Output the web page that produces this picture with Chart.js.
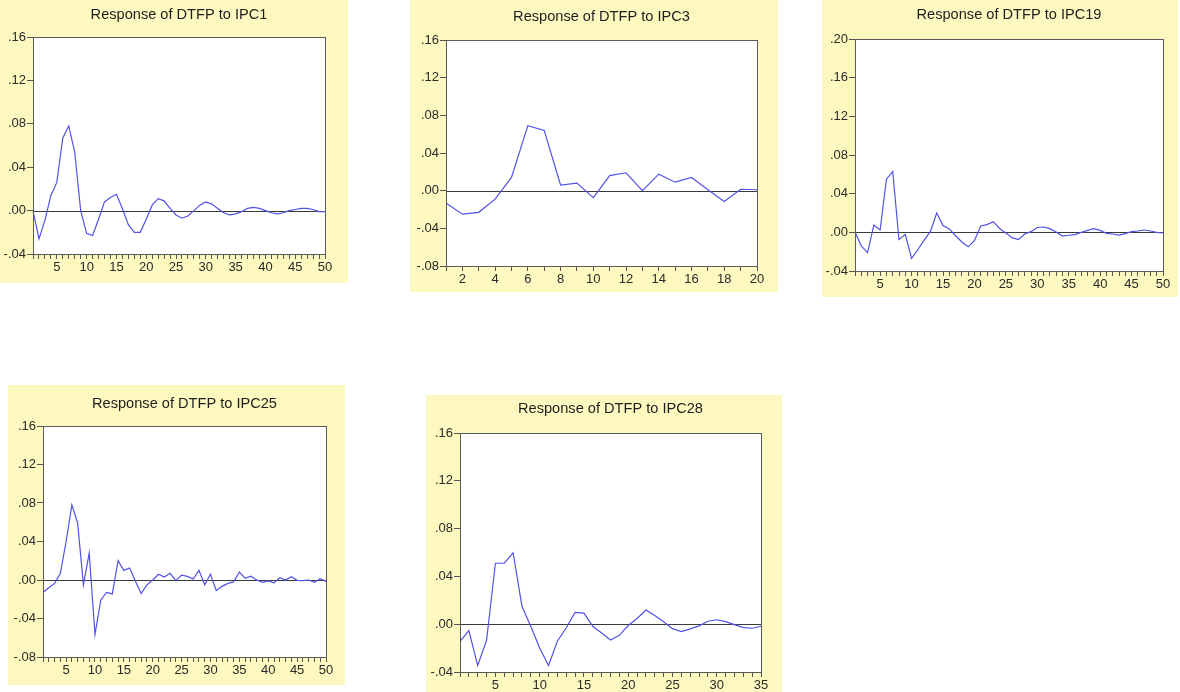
<!DOCTYPE html>
<html>
<head>
<meta charset="utf-8">
<script src="https://cdn.jsdelivr.net/npm/chart.js@4.4.1/dist/chart.umd.min.js"></script>
<style>
  html, body { margin: 0; padding: 0; background: #ffffff; }
  #wrap { position: relative; width: 1180px; height: 692px; overflow: hidden; }
  canvas { position: absolute; background: #fdf8bf; }
</style>
</head>
<body>
<div id="wrap">
  <canvas id="c1"></canvas>
  <canvas id="c2"></canvas>
  <canvas id="c3"></canvas>
  <canvas id="c4"></canvas>
  <canvas id="c5"></canvas>
</div>
<script>
// ---------- categories (periods) ----------
const periods50 = [1,2,3,4,5,6,7,8,9,10,11,12,13,14,15,16,17,18,19,20,21,22,23,24,25,26,27,28,29,30,31,32,33,34,35,36,37,38,39,40,41,42,43,44,45,46,47,48,49,50];
const periods20 = [1,2,3,4,5,6,7,8,9,10,11,12,13,14,15,16,17,18,19,20];
const periods35 = [1,2,3,4,5,6,7,8,9,10,11,12,13,14,15,16,17,18,19,20,21,22,23,24,25,26,27,28,29,30,31,32,33,34,35];

// ---------- series values ----------
const respIPC1 = [0.000,-0.026,-0.009,0.014,0.026,0.067,0.078,0.054,0.000,-0.021,
                  -0.023,-0.008,0.008,0.012,0.015,0.002,-0.013,-0.020,-0.020,-0.008,
                  0.005,0.011,0.009,0.002,-0.004,-0.007,-0.005,0.000,0.005,0.008,
                  0.006,0.002,-0.002,-0.004,-0.003,-0.001,0.002,0.003,0.002,0.000,
                  -0.002,-0.003,-0.002,0.000,0.001,0.002,0.002,0.001,-0.001,-0.001];
const respIPC3 = [-0.013,-0.025,-0.023,-0.009,0.014,0.069,0.064,0.006,0.008,-0.0075,
                  0.016,0.019,0.000,0.0175,0.009,0.014,0.001,-0.0115,0.0015,0.001];
const respIPC19 = [0.000,-0.014,-0.021,0.0076,0.0025,0.055,0.063,-0.0075,-0.002,-0.027,
                   -0.018,-0.008,0.001,0.020,0.007,0.0035,-0.0035,-0.010,-0.015,-0.0087,
                   0.0066,0.008,0.011,0.004,-0.0007,-0.0055,-0.0076,-0.0017,0.0007,0.005,
                   0.0055,0.0038,0.0003,-0.0038,-0.003,-0.0024,0.000,0.002,0.0038,0.002,
                   -0.001,-0.0017,-0.0028,-0.0014,0.0007,0.0014,0.0024,0.0014,0.000,-0.0007];
const respIPC25 = [-0.013,-0.008,-0.0035,0.0066,0.040,0.078,0.059,-0.005,0.028,-0.0565,
                   -0.021,-0.013,-0.0145,0.020,0.010,0.0125,-0.0014,-0.014,-0.005,0.000,
                   0.006,0.003,0.007,-0.0007,0.005,0.0038,0.001,0.010,-0.005,0.006,
                   -0.011,-0.0066,-0.0035,-0.002,0.0083,0.0017,0.004,0.000,-0.0024,-0.001,
                   -0.003,0.0024,0.000,0.0035,-0.0003,-0.0007,0.000,-0.0024,0.0014,-0.0014];
const respIPC28 = [-0.0143,-0.0053,-0.0346,-0.0135,0.051,0.051,0.0596,0.015,-0.002,-0.020,
                   -0.0346,-0.0143,-0.003,0.0098,0.0093,-0.0017,-0.0073,-0.0132,-0.0093,-0.0011,
                   0.0048,0.0118,0.0073,0.002,-0.0037,-0.0062,-0.0039,-0.0014,0.0025,0.0037,
                   0.0022,-0.0003,-0.0028,-0.0034,-0.0017];

// ---------- tick labels ----------
const yTicksA = [-0.04, 0.00, 0.04, 0.08, 0.12, 0.16];
const yTicksB = [-0.08, -0.04, 0.00, 0.04, 0.08, 0.12, 0.16];
const yTicksC = [-0.04, 0.00, 0.04, 0.08, 0.12, 0.16, 0.20];
const xLabels50 = [5,10,15,20,25,30,35,40,45,50];
const xLabels20 = [2,4,6,8,10,12,14,16,18,20];
const xLabels35 = [5,10,15,20,25,30,35];

const titles = ['Response of DTFP to IPC1','Response of DTFP to IPC3','Response of DTFP to IPC19','Response of DTFP to IPC25','Response of DTFP to IPC28'];

// ---------- layout (positions / sizes) ----------
const panels = [
  {id:'c1', left:0,   top:0,   w:348, h:283, yw:33, xh:29, pr:23, chartTop:37, titleC:15, periods:periods50, values:respIPC1,  yt:yTicksA, xl:xLabels50, title:titles[0]},
  {id:'c2', left:410, top:0,   w:368, h:292, yw:36, xh:26, pr:21, chartTop:40, titleC:17, periods:periods20, values:respIPC3,  yt:yTicksB, xl:xLabels20, title:titles[1]},
  {id:'c3', left:822, top:0,   w:356, h:297, yw:33, xh:26, pr:15, chartTop:39, titleC:15, periods:periods50, values:respIPC19, yt:yTicksC, xl:xLabels50, title:titles[2]},
  {id:'c4', left:8,   top:385, w:337, h:300, yw:35, xh:28, pr:19, chartTop:41, titleC:19, periods:periods50, values:respIPC25, yt:yTicksB, xl:xLabels50, title:titles[3]},
  {id:'c5', left:426, top:395, w:356, h:297, yw:34, xh:20, pr:21, chartTop:38, titleC:14, periods:periods35, values:respIPC28, yt:yTicksA, xl:xLabels35, title:titles[4]}
];

const FONT = "'Liberation Sans', Arial, sans-serif";
const TITLE_SIZE = 14.6;
const TICK_SIZE = 13;

function fmtTick(v) {
  if (Math.abs(v) < 1e-9) v = 0;
  let s = v.toFixed(2);
  return s.replace(/^(-?)0\./, '$1.');
}

const framePlugin = {
  id: 'eviewsFrame',
  beforeDraw(chart) {
    const {ctx, chartArea: a} = chart;
    ctx.save();
    ctx.fillStyle = '#ffffff';
    ctx.fillRect(a.left, a.top, a.right - a.left, a.bottom - a.top);
    ctx.restore();
  },
  beforeDatasetsDraw(chart) {
    const {ctx, chartArea: a} = chart;
    const y = Math.round(chart.scales.y.getPixelForValue(0)) + 0.5;
    ctx.save();
    ctx.strokeStyle = '#3a3a3a';
    ctx.lineWidth = 1;
    ctx.beginPath();
    ctx.moveTo(a.left, y);
    ctx.lineTo(a.right, y);
    ctx.stroke();
    ctx.restore();
  },
  afterDraw(chart) {
    const {ctx, chartArea: a} = chart;
    ctx.save();
    ctx.strokeStyle = '#5a5a5a';
    ctx.lineWidth = 1;
    ctx.strokeRect(Math.round(a.left) + 0.5, Math.round(a.top) + 0.5,
                   Math.round(a.right - a.left), Math.round(a.bottom - a.top));
    ctx.restore();
  }
};

panels.forEach(p => {
  const cv = document.getElementById(p.id);
  cv.width = p.w; cv.height = p.h;
  cv.style.left = p.left + 'px'; cv.style.top = p.top + 'px';
  cv.style.width = p.w + 'px'; cv.style.height = p.h + 'px';
  const lh = TITLE_SIZE * 1.2;
  const padTop = p.titleC - lh / 2;
  const padBottom = p.chartTop - p.titleC - lh / 2;
  new Chart(cv, {
    type: 'line',
    data: {
      labels: p.periods.map(String),
      datasets: [{
        data: p.values,
        borderColor: '#5252e8',
        borderWidth: 1.2,
        pointRadius: 0,
        fill: false,
        tension: 0
      }]
    },
    options: {
      responsive: false,
      animation: false,
      devicePixelRatio: 1,
      layout: { padding: { left: 0, right: p.pr, top: 0, bottom: 0 } },
      plugins: {
        legend: { display: false },
        tooltip: { enabled: false },
        title: {
          display: true,
          fullSize: false,
          text: p.title,
          color: '#1e1e1e',
          font: { family: FONT, size: TITLE_SIZE, weight: 'normal' },
          padding: { top: padTop, bottom: padBottom }
        }
      },
      scales: {
        x: {
          type: 'category',
          offset: false,
          border: { display: false },
          grid: { display: true, drawOnChartArea: false, drawTicks: true, tickLength: 5, color: '#555555', lineWidth: 1 },
          ticks: {
            autoSkip: false, maxRotation: 0, minRotation: 0, padding: 1,
            color: '#2a2a2a', font: { family: FONT, size: TICK_SIZE },
            callback: function(val, idx) {
              const n = p.periods[idx];
              return p.xl.includes(n) ? String(n) : '';
            }
          },
          afterFit(scale) { scale.height = p.xh; }
        },
        y: {
          min: p.yt[0],
          max: p.yt[p.yt.length - 1],
          border: { display: false },
          grid: { display: true, drawOnChartArea: false, drawTicks: true, tickLength: 6, color: '#555555', lineWidth: 1 },
          ticks: {
            stepSize: p.yt[1] - p.yt[0], padding: 1,
            color: '#2a2a2a', font: { family: FONT, size: TICK_SIZE },
            callback: v => fmtTick(v)
          },
          afterFit(scale) { scale.width = p.yw; }
        }
      }
    },
    plugins: [framePlugin]
  });
});
</script>
</body>
</html>
